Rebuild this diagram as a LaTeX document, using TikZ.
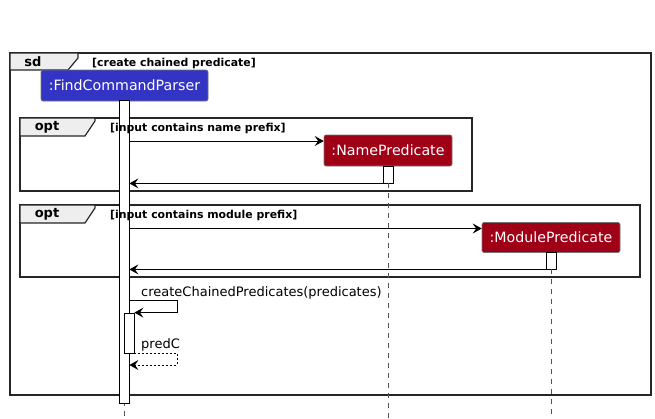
\documentclass[tikz,border=0pt]{standalone}
\usepackage{fontspec}
\setmainfont{DejaVu Sans}
\usetikzlibrary{arrows.meta}
\definecolor{pblue}{HTML}{3434C4}
\definecolor{pred}{HTML}{A00016}
\definecolor{tabgray}{HTML}{EEEEEE}
\definecolor{lifegray}{HTML}{555555}
\begin{document}
\begin{tikzpicture}[x=1pt,y=-1pt,
  participant/.style={rectangle, rounded corners=2pt, draw=black!55, line width=0.6pt,
    inner sep=0pt, minimum height=31pt, text=white, font=\fontsize{14.2}{16}\selectfont},
  actbar/.style={rectangle, draw, fill=white, minimum width=10pt, inner sep=0pt, line width=0.8pt},
  frameline/.style={line width=1.5pt, draw=black!85},
  tab/.style={line width=1.2pt, draw=black!85, fill=tabgray},
  tabtitle/.style={font=\bfseries\fontsize{13}{15}\selectfont, inner sep=0pt},
  guard/.style={font=\bfseries\fontsize{10.9}{12}\selectfont, inner sep=0pt, anchor=base west},
  msg/.style={-{Stealth[length=9pt,width=10pt,inset=3.5pt]}, line width=0.8pt},
  retmsg/.style={msg, dash pattern=on 2pt off 2pt},
  msglabel/.style={font=\fontsize{13}{15}\selectfont, inner sep=0pt, anchor=base west},
  lifeline/.style={draw=lifegray, line width=0.8pt, dash pattern=on 5pt off 5pt}
]
\useasboundingbox (0,0) rectangle (655,418);

% outer sd frame
\draw[frameline] (10,53) rectangle (651,395);
\draw[tab] (10,53) -- (78,53) -- (78,58) -- (68,70) -- (10,70) -- cycle;
\node[tabtitle] (sdlbl) at (33,61.5) {sd};
\node[guard] (sdguard) at (92,66) {[create chained predicate]};

% opt frame 1
\draw[frameline] (20,118) rectangle (472,191);
\draw[tab] (20,118) -- (95,118) -- (95,121) -- (85,136) -- (20,136) -- cycle;
\node[tabtitle] (opt1) at (47,127.5) {opt};

% opt frame 2
\draw[frameline] (20,205) rectangle (640,277);
\draw[tab] (20,205) -- (95,205) -- (95,208) -- (85,223) -- (20,223) -- cycle;
\node[tabtitle] (opt2) at (47,214.5) {opt};

% participants
\node[participant, fill=pblue, minimum width=167pt] (fcp) at (124.5,85.5) {:FindCommandParser};
\node[participant, fill=pred, minimum width=128pt] (np) at (388,150.5) {:NamePredicate};
\node[participant, fill=pred, minimum width=138pt, minimum height=30pt] (mp) at (551,237.5) {:ModulePredicate};

% lifeline ends
\coordinate (bottom) at (0,418);
\draw[lifeline] (fcp.south) -- (fcp.south |- bottom);

% activations
\node[actbar, minimum height=303pt] (act1) at (124,251.5) {};
\node[actbar, minimum height=17pt] (actN) at (388,174.5) {};
\node[actbar, minimum height=17pt] (actM) at (551,260.5) {};
\node[actbar, minimum height=40pt] (act1b) at (129,333) {};

\draw[lifeline] (actN.south) -- (actN.south |- bottom);
\draw[lifeline] (actM.south) -- (actM.south |- bottom);

% guards drawn over the activation bar
\node[guard] (g1) at (110,131) {[input contains name prefix]};
\node[guard] (g2) at (110,218) {[input contains module prefix]};

% messages
\coordinate (m1) at (0,141);
\draw[msg] (act1.east |- m1) -- (np.west |- m1);
\draw[msg] (actN.south west) -- (act1.east |- actN.south);

\coordinate (m2) at (0,228.5);
\draw[msg] (act1.east |- m2) -- (mp.west |- m2);
\draw[msg] (actM.south west) -- (act1.east |- actM.south);

% self call
\coordinate (s1) at (0,300.5);
\node[msglabel] (sclbl) at (141,296) {createChainedPredicates(predicates)};
\draw[msg] (act1.east |- s1) -- ++(48,0) |- (act1b.north east);

% return predC
\coordinate (r1) at (0,365);
\node[msglabel] (rlbl) at (141,348) {predC};
\draw[retmsg] (act1b.south east) -- ++(43,0) |- (act1.east |- r1);
\end{tikzpicture}
\end{document}
